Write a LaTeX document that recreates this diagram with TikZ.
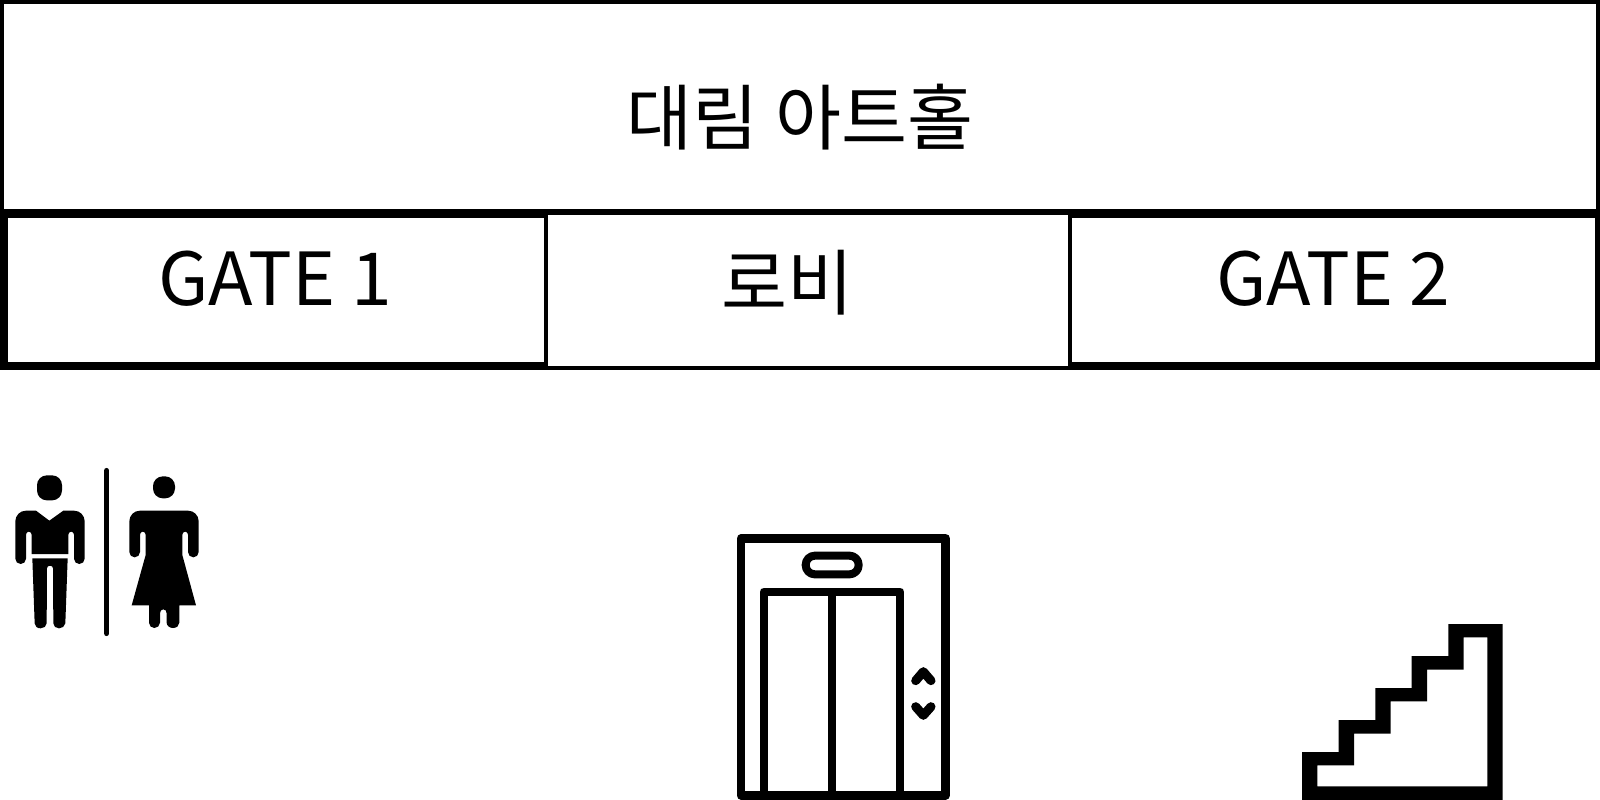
\documentclass[tikz,border=0pt]{standalone}
\usepackage{fontspec}
\setmainfont{Noto Sans CJK KR}
\begin{document}
\begin{tikzpicture}[
                  x=0.01cm, y=-0.01cm,
                  roombox/.style={rectangle, draw, fill=white, inner sep=0pt, line width=0.08cm},
                  roomtext/.style={inner sep=0pt, font=\fontsize{20.4}{24}\selectfont},
                  gatetext/.style={inner sep=0pt, font=\fontsize{20.8}{25}\selectfont},
                  icon/.style={x=0.01cm/3, y=-0.01cm/3},
                  iconline/.style={line width=0.08cm, line join=round}
            ]
            \useasboundingbox (0,0) rectangle (1600,800);

            % Rooms
            \node [roombox, line width=0.04cm, minimum width=15.96cm, minimum height=2.09cm] (hall) at (800,106.5) {};
            \node [roombox, minimum width=5.44cm, minimum height=1.52cm] (gate1) at (276,290) {};
            \node [roombox, minimum width=5.31cm, minimum height=1.52cm] (gate2) at (1333.5,290) {};
            \node [roombox, line width=0.04cm, minimum width=5.24cm, minimum height=1.55cm] (lobby) at (808,290.5) {};

            % Labels
            \node [roomtext] (halltext) at (800,117) {대림 아트홀};
            \node [gatetext] (gate1text) at (275.5,278.5) {GATE 1};
            \node [gatetext] (gate2text) at (1333,278.5) {GATE 2};
            \node [roomtext] (lobbytext) at (787.5,283) {로비};

            % Restroom sign
            \begin{scope}[shift={(0,450)}, icon]
                  \fill [rounded corners=2.8pt] (111,76) rectangle (186,151);
                  \fill (108,182) -- (148,212) -- (190,182) -- (222,182) .. controls (240,182) and (254,196) .. (254,214) -- (254,326) .. controls (254,335) and (247,342) .. (238,342) .. controls (229,342) and (222,335) .. (222,326) -- (222,254) .. controls (222,249) and (218,245) .. (213.5,245) .. controls (209,245) and (205,249) .. (205,254) -- (205,312) -- (95,312) -- (95,254) .. controls (95,249) and (91,245) .. (86.5,245) .. controls (82,245) and (78,249) .. (78,254) -- (78,326) .. controls (78,335) and (71,342) .. (62,342) .. controls (53,342) and (46,335) .. (46,326) -- (46,214) .. controls (46,196) and (60,182) .. (78,182) -- cycle;
                  \fill (97,325) -- (104,520) .. controls (104.5,529) and (112,535) .. (122,535) .. controls (131,535) and (140,529) .. (140,520) -- (141,355) .. controls (141,350) and (145,347) .. (150,347) .. controls (155,347) and (159,350) .. (159,355) -- (160,520) .. controls (160,529) and (168,535) .. (177,535) .. controls (186,535) and (195,529) .. (196,520) -- (203,325) -- cycle;
                  \draw [line width=0.055cm, line cap=round] (320,62) -- (320,550);
                  \fill [rounded corners=2.8pt] (459,79) rectangle (525,145);
                  \fill (420,182) -- (564,182) .. controls (582,182) and (596,196) .. (596,214) -- (596,306) .. controls (596,315) and (589,322) .. (580,322) .. controls (571,322) and (564,315) .. (564,306) -- (564,254) .. controls (564,249) and (560,245) .. (555.5,245) .. controls (551,245) and (547,249) .. (547,254) -- (547,315) -- (588,466) -- (538,466) -- (538,518) .. controls (538,527) and (530,534) .. (519,534) .. controls (509,534) and (500,527) .. (500,518) -- (500,490) .. controls (500,483) and (496,478) .. (490,478) .. controls (484,478) and (480,483) .. (480,490) -- (480,518) .. controls (480,527) and (472,534) .. (463,534) .. controls (454,534) and (447,527) .. (447,518) -- (447,466) -- (395,466) -- (437,315) -- (437,254) .. controls (437,249) and (433,245) .. (428.5,245) .. controls (424,245) and (420,249) .. (420,254) -- (420,306) .. controls (420,315) and (413,322) .. (404,322) .. controls (395,322) and (388,315) .. (388,306) -- (388,214) .. controls (388,196) and (402,182) .. (420,182) -- cycle;
            \end{scope}

            % Elevator
            \begin{scope}[shift={(720,520)}, icon]
                  \draw [iconline, line width=0.085cm] (63,55) rectangle (677,826);
                  \draw [iconline] (131,826) -- (131,215) -- (541,215) -- (541,826);
                  \draw [iconline] (336,215) -- (336,826);
                  \draw [iconline, rounded corners=2.6pt] (257,107) rectangle (416,163);
                  \draw [iconline, line width=0.09cm, line cap=round] (587,482) -- (610,455) -- (633,482);
                  \draw [iconline, line width=0.09cm, line cap=round] (587,560) -- (610,586) -- (633,560);
            \end{scope}

            % Stairs
            \begin{scope}[shift={(1280,610)}, icon]
                  \fill [even odd rule] (66,426) -- (176,426) -- (176,330) -- (286,330) -- (286,234) -- (395,234) -- (395,138) -- (505,138) -- (505,42) -- (668,42) -- (668,570) -- (66,570) -- cycle
                        (112,466) -- (222,466) -- (222,371) -- (332,371) -- (332,274) -- (441,274) -- (441,179) -- (551,179) -- (551,82) -- (622,82) -- (622,529) -- (112,529) -- cycle;
            \end{scope}
      \end{tikzpicture}
\end{document}
